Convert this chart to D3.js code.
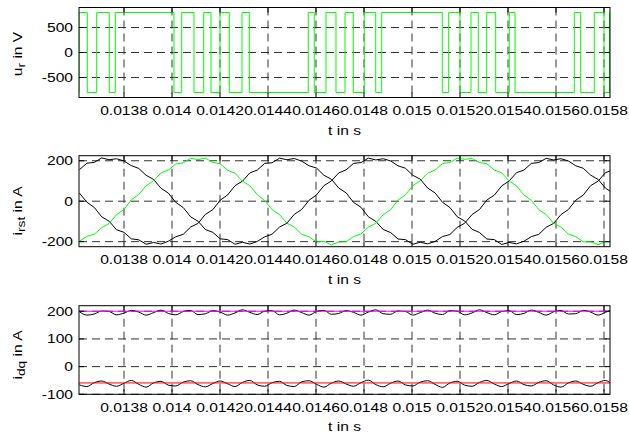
<!DOCTYPE html>
<html>
<head>
<meta charset="utf-8">
<script src="https://cdn.jsdelivr.net/npm/d3@7"></script>
<style>
  html, body { margin: 0; padding: 0; background: #fff; }
  svg { display: block; }
  text { font-family: "Liberation Sans", Arial, sans-serif; fill: #000; }
</style>
</head>
<body>
<svg id="chart" width="629" height="435"></svg>
<script>
// ---- shared time axis ----
const timeTicks = [0.0138, 0.014, 0.0142, 0.0144, 0.0146, 0.0148, 0.015, 0.0152, 0.0154, 0.0156, 0.0158];
const timeTickLabels = ["0.0138", "0.014", "0.0142", "0.0144", "0.0146", "0.0148", "0.015", "0.0152", "0.0154", "0.0156", "0.0158"];
const timeLimits = [0.0136125, 0.015825];

// ---- phase voltage u_r (switching instants and levels) ----
const uTime = [0.0136000, 0.0136125, 0.0136471, 0.0136862, 0.0137387, 0.0137637, 0.0140083, 0.0140404,
  0.0140917, 0.0141321, 0.0141625, 0.0142000, 0.0142388, 0.0142917, 0.0143221, 0.0145679, 0.0145929,
  0.0146417, 0.0146833, 0.0147208, 0.0147554, 0.0148013, 0.0148488, 0.0148738, 0.0151263, 0.0151529,
  0.0152000, 0.0152458, 0.0152763, 0.0153113, 0.0153488, 0.0154054, 0.0154292, 0.0156763, 0.0157029,
  0.0157596, 0.0158000, 0.0158229, 0.0158300];
const uVolt = [-800, 800, -800, 800, -800, 800, -800, 800,
  -800, 800, -800, 800, -800, 800, -800, 800, -800,
  800, -800, 800, -800, 800, -800, 800, -800, 800,
  -800, 800, -800, 800, -800, 800, -800, 800, -800,
  800, -800, 800, 800];
const uTicks = [-500, 0, 500];
const uLimits = [-900, 900];

// ---- sampled currents ----
const sampleTime = [0.0136145, 0.0136454, 0.0136762, 0.0137071, 0.0137380, 0.0137688, 0.0137997, 0.0138305,
  0.0138614, 0.0138923, 0.0139231, 0.0139540, 0.0139849, 0.0140157, 0.0140466, 0.0140775, 0.0141083,
  0.0141392, 0.0141701, 0.0142009, 0.0142318, 0.0142627, 0.0142935, 0.0143244, 0.0143553, 0.0143861,
  0.0144170, 0.0144479, 0.0144787, 0.0145096, 0.0145405, 0.0145713, 0.0146022, 0.0146331, 0.0146639,
  0.0146948, 0.0147257, 0.0147565, 0.0147874, 0.0148183, 0.0148491, 0.0148800, 0.0149109, 0.0149417,
  0.0149726, 0.0150035, 0.0150343, 0.0150652, 0.0150961, 0.0151269, 0.0151578, 0.0151887, 0.0152195,
  0.0152504, 0.0152813, 0.0153121, 0.0153430, 0.0153739, 0.0154047, 0.0154356, 0.0154665, 0.0154973,
  0.0155282, 0.0155591, 0.0155899, 0.0156208, 0.0156517, 0.0156825, 0.0157134, 0.0157443, 0.0157751,
  0.0158060, 0.0158369, 0.0158677];

const iR = [-198, -174, -163, -131, -110, -67, -41, 7, 33, 76, 100, 140, 154, 184, 189, 212, 206,
  213, 192, 185, 153, 138, 99, 77, 32, 3, -42, -66, -108, -128, -164, -176, -202, -199, -216,
  -202, -200, -175, -162, -128, -109, -67, -42, 5, 32, 77, 101, 139, 154, 186, 191, 213, 207,
  211, 191, 185, 154, 140, 100, 76, 31, 4, -42, -66, -109, -128, -163, -175, -201, -201, -215,
  -200, -203, -176];
const iS = [156, 188, 192, 214, 205, 210, 199, 176, 162, 128, 108, 64, 40, -6, -31, -77, -99,
  -140, -154, -186, -190, -213, -203, -212, -199, -176, -163, -128, -109, -65, -41, 5, 31, 77, 100,
  140, 155, 187, 191, 213, 204, 210, 199, 175, 163, 128, 109, 65, 41, -5, -31, -77, -98,
  -139, -155, -187, -190, -214, -204, -211, -198, -175, -164, -129, -110, -66, -41, 5, 30, 77, 99,
  141, 155, 186];
const iT = [40, -5, -31, -77, -99, -141, -154, -186, -191, -213, -204, -212, -198, -176, -164, -128, -110,
  -65, -42, 5, 31, 77, 99, 140, 154, 187, 190, 213, 205, 211, 198, 175, 164, 128, 109,
  65, 41, -6, -30, -77, -100, -140, -155, -187, -190, -213, -203, -211, -199, -175, -165, -129, -109,
  -66, -41, 6, 30, 76, 100, 141, 154, 187, 191, 212, 204, 210, 199, 175, 163, 129, 108,
  65, 40, -6];
const iTicks = [-200, 0, 200];
const iLimits = [-225, 225];

const iD = [198, 186, 190, 201, 199, 187, 193, 203, 197, 186,
  195, 204, 192, 187, 199, 203, 188, 191, 202, 197,
  186, 194, 205, 196, 188, 200, 202, 187, 193, 204,
  195, 186, 199, 203, 189, 192, 202, 196, 186, 197,
  205, 191, 189, 201, 199, 186, 195, 204, 193, 188,
  202, 200, 187, 194, 205, 195, 187, 199, 202, 188,
  192, 204, 196, 186, 198, 203, 190, 191, 203, 197,
  186, 196, 205, 193];
const iQ = [-66, -72, -58, -52, -63, -71, -60, -50, -64, -74,
  -59, -53, -67, -70, -56, -51, -65, -73, -61, -52,
  -62, -72, -57, -50, -66, -71, -58, -53, -68, -72,
  -55, -51, -64, -74, -60, -52, -63, -71, -58, -49,
  -65, -73, -60, -52, -66, -70, -56, -51, -64, -75,
  -59, -53, -67, -71, -57, -50, -63, -72, -61, -52,
  -65, -70, -57, -51, -66, -74, -59, -52, -64, -71,
  -58, -50, -65, -72];
const refTime = [0.01360, 0.01584];
const iDRef = [200, 200];
const iQRef = [-59, -59];
const dqTicks = [-100, 0, 100, 200];
const dqLimits = [-100, 220];

// ---- layout ----
const svg = d3.select("#chart");
const left = 79, right = 610;
const SX = 1.2;            // horizontal text stretch
const FS = 13;             // base font size

const x = d3.scaleLinear().domain(timeLimits).range([left, right]);

const panels = [
  { top: 7.5, bottom: 97.5, limits: uLimits, ticks: uTicks, labelY: 54,
    label: ["u", "r", " in V"],
    series: [{ t: uTime, v: uVolt, color: "#00ff00", step: true }] },
  { top: 155.7, bottom: 246.7, limits: iLimits, ticks: iTicks, labelY: 211,
    label: ["i", "rst", " in A"],
    series: [
      { t: sampleTime, v: iS, color: "#000000" },
      { t: sampleTime, v: iT, color: "#000000" },
      { t: sampleTime, v: iR, color: "#00ff00" }] },
  { top: 305.7, bottom: 394.3, limits: dqLimits, ticks: dqTicks, labelY: 355,
    label: ["i", "dq", " in A"],
    series: [
      { t: sampleTime, v: iD, color: "#000000", smooth: true },
      { t: sampleTime, v: iQ, color: "#000000", smooth: true },
      { t: refTime, v: iDRef, color: "#ff00ff" },
      { t: refTime, v: iQRef, color: "#ff0000" }] }
];

function stretchedText(g, px, py, str, anchor) {
  return g.append("text")
    .attr("transform", `translate(${px},${py}) scale(${SX},1)`)
    .attr("text-anchor", anchor)
    .attr("font-size", FS)
    .text(str);
}

panels.forEach((p, idx) => {
  const g = svg.append("g");
  const y = d3.scaleLinear().domain(p.limits).range([p.bottom, p.top]);
  const clipId = "clip" + idx;
  svg.append("clipPath").attr("id", clipId)
    .append("rect").attr("x", left).attr("y", p.top)
    .attr("width", right - left).attr("height", p.bottom - p.top);

  // dashed grid
  const grid = g.append("g").attr("stroke", "#333").attr("stroke-width", 1)
    .attr("stroke-dasharray", "8,5").attr("fill", "none");
  timeTicks.forEach(t => {
    grid.append("line").attr("x1", x(t)).attr("x2", x(t))
      .attr("y1", p.top).attr("y2", p.bottom);
  });
  p.ticks.forEach(v => {
    grid.append("line").attr("x1", left).attr("x2", right)
      .attr("y1", y(v)).attr("y2", y(v));
  });

  // data
  const dg = g.append("g").attr("clip-path", `url(#${clipId})`);
  p.series.forEach(s => {
    const line = d3.line()
      .x((d, i) => x(s.t[i]))
      .y(d => y(d))
      .curve(s.step ? d3.curveStepAfter : (s.smooth ? d3.curveMonotoneX : d3.curveLinear));
    dg.append("path").datum(s.v)
      .attr("d", line)
      .attr("fill", "none")
      .attr("stroke", s.color)
      .attr("stroke-width", 1);
  });

  // frame
  g.append("rect").attr("x", left).attr("y", p.top)
    .attr("width", right - left).attr("height", p.bottom - p.top)
    .attr("fill", "none").attr("stroke", "#000").attr("stroke-width", 1);

  // inward tick marks on all sides
  const tk = g.append("g").attr("stroke", "#000").attr("stroke-width", 1);
  const L = 5;
  timeTicks.forEach(t => {
    tk.append("line").attr("x1", x(t)).attr("x2", x(t)).attr("y1", p.bottom).attr("y2", p.bottom - L);
    tk.append("line").attr("x1", x(t)).attr("x2", x(t)).attr("y1", p.top).attr("y2", p.top + L);
  });
  p.ticks.forEach(v => {
    tk.append("line").attr("x1", left).attr("x2", left + L).attr("y1", y(v)).attr("y2", y(v));
    tk.append("line").attr("x1", right).attr("x2", right - L).attr("y1", y(v)).attr("y2", y(v));
  });

  // tick labels
  timeTicks.forEach((t, i) => stretchedText(g, x(t), p.bottom + 17.5, timeTickLabels[i], "middle"));
  p.ticks.forEach(v => stretchedText(g, left - 6, y(v) + 4.5, String(v), "end"));

  // axis titles
  stretchedText(g, (left + right) / 2, p.bottom + 37, "t in s", "middle");

  const yl = g.append("text")
    .attr("transform", `translate(21.5,${p.labelY}) rotate(-90) scale(${SX},1)`)
    .attr("text-anchor", "middle")
    .attr("font-size", FS);
  yl.append("tspan").text(p.label[0]);
  yl.append("tspan").attr("dy", 3.5).attr("font-size", 11.5).text(p.label[1]);
  yl.append("tspan").attr("dy", -3.5).text(p.label[2]);
});
</script>
</body>
</html>
